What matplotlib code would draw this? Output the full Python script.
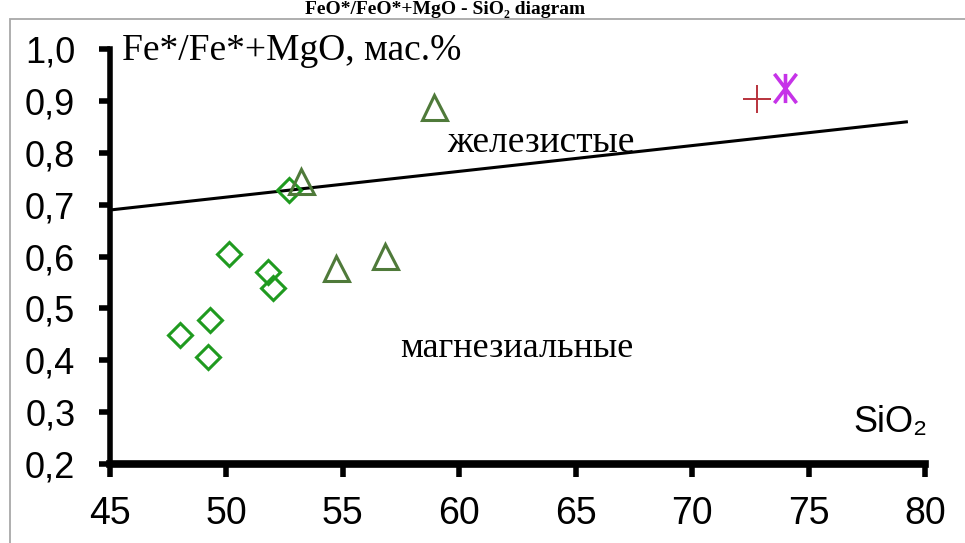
import matplotlib.pyplot as plt
from matplotlib.patches import Rectangle
from matplotlib.path import Path

# Данные диаграммы FeO*/(FeO*+MgO) - SiO2
diamond_sio2 = [48.0, 49.2, 49.3, 50.1, 51.8, 52.0, 52.7]
diamond_fe = [0.448, 0.407, 0.477, 0.606, 0.571, 0.539, 0.728]
triangle_sio2 = [53.2, 54.7, 56.8, 58.9]
triangle_fe = [0.746, 0.579, 0.601, 0.889]
plus_sio2 = [72.8]
plus_fe = [0.905]
star_sio2 = [74.0]
star_fe = [0.925]
boundary_sio2 = [45, 79.2]
boundary_fe = [0.69, 0.86]

x_ticks = [45, 50, 55, 60, 65, 70, 75, 80]
y_ticks = [0.2, 0.3, 0.4, 0.5, 0.6, 0.7, 0.8, 0.9, 1.0]
y_tick_labels = ['0,2', '0,3', '0,4', '0,5', '0,6', '0,7', '0,8', '0,9', '1,0']

plt.rcParams['font.family'] = ['Liberation Sans', 'DejaVu Sans']
serif = ['Liberation Serif', 'DejaVu Serif']

fig = plt.figure(figsize=(9.65, 5.43), dpi=100)
ax = fig.add_axes([110 / 965, 1 - 464 / 543, 815 / 965, 414.7 / 543])

# рамка вокруг рисунка
fig.patches.append(Rectangle((10 / 965, -0.1), 1.0, 1 - 19 / 543 + 0.1,
                             transform=fig.transFigure, fill=False,
                             edgecolor='#a8a8a8', lw=1.3))

# заголовок
fig.text(445 / 965, 1 - 14 / 543, 'FeO*/FeO*+MgO - SiO\u2082 diagram', ha='center',
         va='baseline', fontsize=14, fontweight='bold', family=serif)

# граница железистые / магнезиальные
ax.plot(boundary_sio2, boundary_fe, color='black', lw=2.2, zorder=2)

ax.plot(diamond_sio2, diamond_fe, ls='none', marker='D', ms=12.5, mfc='none',
        mec='#1f9a1f', mew=2.2, zorder=3)
ax.plot(triangle_sio2, triangle_fe, ls='none', marker='^', ms=18, mfc='none',
        mec='#4f7a3a', mew=2.2, zorder=3)
ax.plot(plus_sio2, plus_fe, ls='none', marker='+', ms=20, mec='#b8323c', mew=1.4, zorder=3)

star = Path([(-0.38, -0.5), (0.38, 0.5), (-0.38, 0.5), (0.38, -0.5), (0, -0.5), (0, 0.5)],
            [Path.MOVETO, Path.LINETO, Path.MOVETO, Path.LINETO, Path.MOVETO, Path.LINETO])
ax.plot(star_sio2, star_fe, ls='none', marker=star, ms=21, mec='#c633e8', mew=2.6, zorder=3)

ax.text(45.5, 0.997, 'Fe*/Fe*+MgO, мас.%', ha='left', va='center', fontsize=27, family=serif)
ax.text(63.5, 0.802, 'железистые', ha='center', va='baseline', fontsize=27, family=serif)
ax.text(62.45, 0.407, 'магнезиальные', ha='center', va='baseline', fontsize=26, family=serif)
ax.text(80.1, 0.262, 'SiO\u2082', ha='right', va='baseline', fontsize=26)

ax.set_xlim(45, 80)
ax.set_ylim(0.2, 1.0)
ax.set_xticks(x_ticks)
ax.set_yticks(y_ticks)
ax.set_yticklabels(y_tick_labels)
ax.tick_params(axis='x', length=9, width=4, pad=14, labelsize=27, direction='out')
ax.tick_params(axis='y', length=8, width=4, pad=17, labelsize=26, direction='out')

for side in ['top', 'right']:
    ax.spines[side].set_visible(False)
ax.spines['left'].set_linewidth(4)
ax.spines['bottom'].set_linewidth(5.5)
ax.patch.set_visible(False)

plt.savefig('out.png', dpi=100)
